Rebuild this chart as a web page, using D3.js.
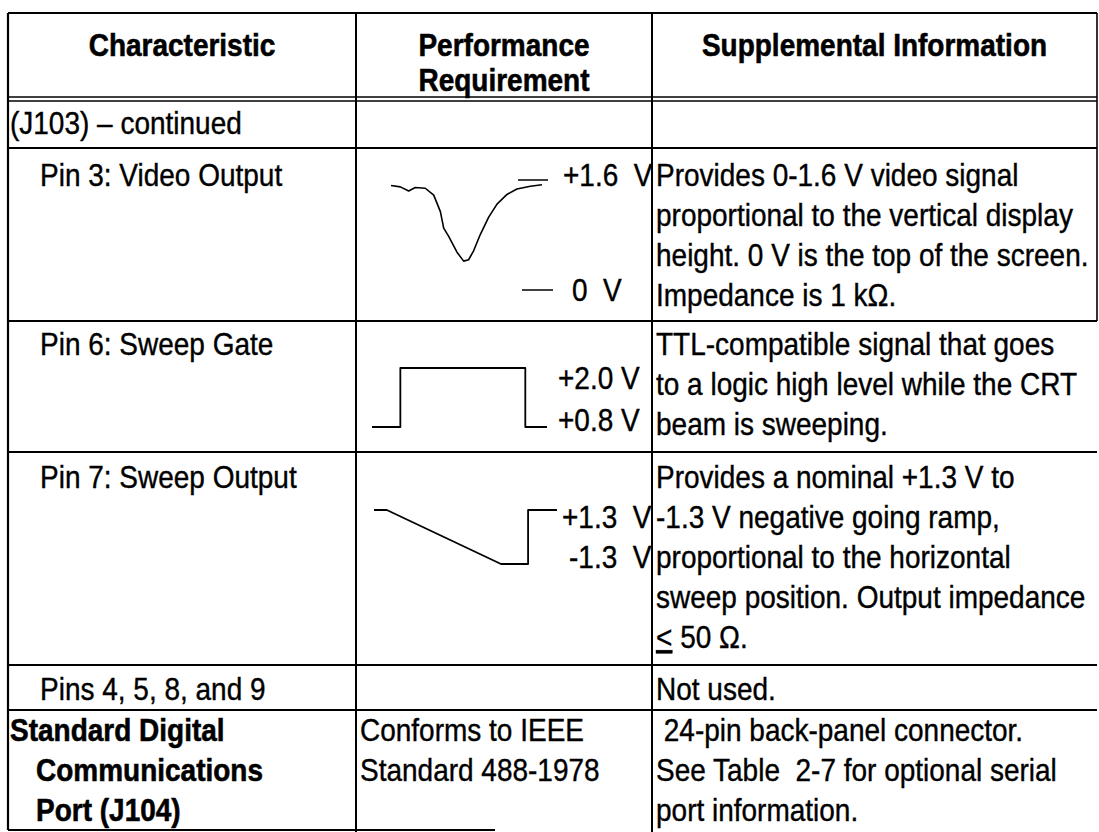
<!DOCTYPE html>
<html><head><meta charset="utf-8">
<script src="https://cdn.jsdelivr.net/npm/d3@7"></script>
<style>
html,body{margin:0;padding:0;background:#fff;}
svg text{font-family:"Liberation Sans",Arial,Helvetica,sans-serif;fill:#000;stroke:#000;stroke-width:0.35px;}
</style></head>
<body>
<svg id="chart" width="1099" height="832"></svg>
<script>
// ---- data ----
const headers = [["Characteristic"], ["Performance", "Requirement"], ["Supplemental Information"]];
const col1 = ["(J103) – continued", "Pin 3: Video Output", "Pin 6: Sweep Gate", "Pin 7: Sweep Output", "Pins 4, 5, 8, and 9"];
const col1Std = ["Standard Digital", "Communications", "Port (J104)"];
const col2Std = ["Conforms to IEEE", "Standard 488-1978"];
const col3Pin3 = ["Provides 0-1.6 V video signal", "proportional to the vertical display", "height. 0 V is the top of the screen.", "Impedance is 1 kΩ."];
const col3Pin6 = ["TTL-compatible signal that goes", "to a logic high level while the CRT", "beam is sweeping."];
const col3Pin7 = ["Provides a nominal +1.3 V to", "-1.3 V negative going ramp,", "proportional to the horizontal", "sweep position. Output impedance", "< 50 Ω."];
const col3Pins = ["Not used."];
const col3Std = [" 24-pin back-panel connector.", "See Table  2-7 for optional serial", "port information."];

// waveform: Pin 3 video output (time 0..100, volts)
const pin3Time  = [0, 6.2, 11.7, 16.1, 22.7, 28.3, 32.7, 34.9, 38.2, 43.7, 48.1, 51.4, 54.7, 59.2, 64.7, 70.2, 76.8, 83.4, 92.3, 100];
const pin3Volts = [1.52, 1.50, 1.44, 1.49, 1.48, 1.38, 1.14, 0.90, 0.78, 0.55, 0.42, 0.44, 0.57, 0.81, 1.06, 1.25, 1.39, 1.47, 1.51, 1.53];
const pin3Levels = [1.6, 0];
const pin3LevelLabels = ["+1.6  V", "0  V"];
// Pin 6 sweep gate
const pin6Time  = [0, 16.2, 16.2, 87.6, 87.6, 100];
const pin6Volts = [0.8, 0.8, 2.0, 2.0, 0.8, 0.8];
const pin6Levels = [2.0, 0.8];
const pin6LevelLabels = ["+2.0 V", "+0.8 V"];
// Pin 7 sweep output
const pin7Time  = [0, 7, 69.4, 84.2, 84.2, 100];
const pin7Volts = [1.3, 1.3, -1.3, -1.3, 1.3, 1.3];
const pin7Levels = [1.3, -1.3];
const pin7LevelLabels = ["+1.3  V", "-1.3  V"];

// ---- layout ----
const svg = d3.select("#chart");
const X = {left: 8, c1: 356, c2: 652, right: 1097};
const rowY = [13, 99, 148, 321, 452, 665, 710, 830]; // header, J103, pin3, pin6, pin7, pins, std
const FS = 28, LS = 40, SY = 1.15;
const g = svg.append("g");

function line(x1, y1, x2, y2, w) {
  g.append("line").attr("x1", x1).attr("y1", y1).attr("x2", x2).attr("y2", y2)
    .attr("stroke", "#000").attr("stroke-width", w || 2);
}
function text(s, x, y, opts) {
  opts = opts || {};
  const t = g.append("text")
    .attr("transform", `translate(${x},${y}) scale(1,${SY})`)
    .attr("font-size", opts.size || FS)
    .attr("font-weight", opts.bold ? "bold" : "normal")
    .attr("text-anchor", opts.anchor || "start")
    .style("white-space", "pre");
  if (opts.bold) t.style("stroke-width", "0.5px");
  if (s !== null) t.text(s);
  return t;
}

// grid lines
line(X.left, rowY[0], X.right, rowY[0], 2.2);
line(X.left, rowY[1] - 2, X.right, rowY[1] - 2, 1.6);
line(X.left, rowY[1] + 2, X.right, rowY[1] + 2, 1.6);
[2, 3, 4, 5, 6].forEach(i => line(X.left, rowY[i], X.right, rowY[i], 2));
line(X.left, rowY[7], 495, rowY[7], 2);
line(X.left, rowY[0], X.left, rowY[7], 2.2);
line(X.c1, rowY[0], X.c1, 832, 2);
line(X.c2, rowY[0], X.c2, 832, 2);
line(X.right, rowY[0], X.right, rowY[3], 1.6);

// headers
text(headers[0][0], (X.left + X.c1) / 2, 56, {bold: true, anchor: "middle"});
headers[1].forEach((s, i) => text(s, (X.c1 + X.c2) / 2, 56 + i * 35, {bold: true, anchor: "middle"}));
text(headers[2][0], (X.c2 + X.right) / 2, 56, {bold: true, anchor: "middle"});

// first baselines of each body row
const B = {j103: 134, pin3: 186, pin6: 355, pin7: 488, pins: 700, std: 741};
const IND = 40;

// column 1
text(col1[0], X.left + 2, B.j103);
text(col1[1], IND, B.pin3);
text(col1[2], IND, B.pin6);
text(col1[3], IND, B.pin7);
text(col1[4], IND, B.pins);
col1Std.forEach((s, i) => text(s, i === 0 ? 10 : 36, B.std + i * LS, {bold: true}));

// column 2 (standard row)
col2Std.forEach((s, i) => text(s, X.c1 + 4, B.std + i * LS));

// column 3
const c3x = X.c2 + 4;
col3Pin3.forEach((s, i) => text(s, c3x, B.pin3 + i * LS));
col3Pin6.forEach((s, i) => text(s, c3x, B.pin6 + i * LS));
col3Pin7.forEach((s, i) => {
  if (s.startsWith("<")) {
    const t = text(null, c3x, B.pin7 + i * LS);
    t.append("tspan").style("text-decoration", "underline").text("<");
    t.append("tspan").text(s.slice(1));
  } else text(s, c3x, B.pin7 + i * LS);
});
text(col3Pins[0], c3x, B.pins);
col3Std.forEach((s, i) => text(s, c3x, B.std + i * LS));

// waveforms
const curve = d3.line().x(d => d[0]).y(d => d[1]);
function wave(times, volts, xs, ys, w) {
  const pts = times.map((t, i) => [xs(t), ys(volts[i])]);
  g.append("path").attr("d", curve(pts)).attr("fill", "none")
    .attr("stroke", "#000").attr("stroke-width", w || 1.8).attr("stroke-linejoin", "round");
}

// Pin 3
const x3 = d3.scaleLinear().domain([0, 100]).range([391, 542]);
const y3 = d3.scaleLinear().domain([0, 1.6]).range([290, 180]);
wave(pin3Time, pin3Volts, x3, y3, 1.6);
line(518, y3(pin3Levels[0]), 548, y3(pin3Levels[0]), 1.5);
line(522, y3(pin3Levels[1]), 553, y3(pin3Levels[1]), 1.5);
text(pin3LevelLabels[0], 563, B.pin3);
text(pin3LevelLabels[1], 572, y3(pin3Levels[1]) + 11);

// Pin 6
const x6 = d3.scaleLinear().domain([0, 100]).range([372, 547]);
const y6 = d3.scaleLinear().domain([0.8, 2.0]).range([427, 368]);
wave(pin6Time, pin6Volts, x6, y6, 1.8);
text(pin6LevelLabels[0], 558, 389);
text(pin6LevelLabels[1], 558, 431);

// Pin 7
const x7 = d3.scaleLinear().domain([0, 100]).range([374, 557]);
const y7 = d3.scaleLinear().domain([-1.3, 1.3]).range([564, 510]);
wave(pin7Time, pin7Volts, x7, y7, 1.8);
text(pin7LevelLabels[0], 562, B.pin7 + LS);
text(pin7LevelLabels[1], 569, B.pin7 + 2 * LS);
</script>
</body></html>
